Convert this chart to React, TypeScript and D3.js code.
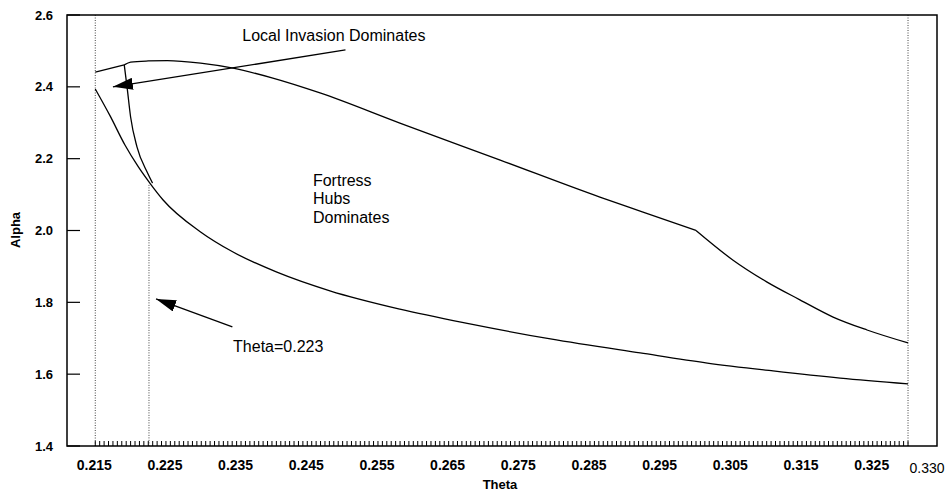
import React, { useEffect, useRef } from 'react';
import * as d3 from 'd3';

const WIDTH = 948;
const HEIGHT = 492;
const FONT = "'Liberation Sans', Arial, sans-serif";

// upper boundary (local invasion / fortress hubs)
const upperTheta = [0.215, 0.2191, 0.22, 0.2225, 0.2252, 0.2299, 0.2345, 0.24, 0.2468, 0.2581, 0.2723, 0.2864, 0.2924, 0.3, 0.3052, 0.31, 0.3147, 0.3194, 0.3242, 0.33];
const upperAlpha = [2.441, 2.461, 2.469, 2.472, 2.473, 2.466, 2.452, 2.425, 2.383, 2.299, 2.196, 2.093, 2.052, 2.0, 1.918, 1.857, 1.807, 1.759, 1.723, 1.687];
// corners on the upper boundary
const upperKinks = [0.2191, 0.3];

// lower boundary
const lowerTheta = [0.215, 0.2171, 0.2192, 0.2211, 0.2228, 0.2246, 0.2299, 0.2345, 0.2407, 0.2482, 0.2581, 0.268, 0.2794, 0.2921, 0.3016, 0.3109, 0.3204, 0.33];
const lowerAlpha = [2.394, 2.319, 2.238, 2.177, 2.13, 2.085, 1.996, 1.94, 1.884, 1.832, 1.781, 1.74, 1.698, 1.659, 1.631, 1.609, 1.589, 1.573];

// steep branch joining the two near theta = 0.223
const steepTheta = [0.2191, 0.2195, 0.22, 0.2209, 0.2224, 0.2231];
const steepAlpha = [2.461, 2.399, 2.316, 2.233, 2.16, 2.132];

const thetaLabels = [0.215, 0.225, 0.235, 0.245, 0.255, 0.265, 0.275, 0.285, 0.295, 0.305, 0.315, 0.325];
const thetaEndLabel = 0.33;
const alphaTicks = [1.4, 1.6, 1.8, 2.0, 2.2, 2.4, 2.6];

// dotted reference lines: theta, alpha where the line starts at the top
const refTheta = [0.215, 0.2226, 0.33];
const refTop = [2.6, 2.127, 2.6];

export default function App() {
  const ref = useRef<SVGSVGElement>(null);

  useEffect(() => {
    if (!ref.current) return;
    const svg = d3.select(ref.current);
    svg.selectAll('*').remove();

    const left = 67;
    const right = 937;
    const top = 15;
    const bottom = 446;

    const x = d3.scaleLinear().domain([0.211, 0.3341]).range([left, right]);
    const y = d3.scaleLinear().domain([1.4, 2.6]).range([bottom, top]);

    svg.append('rect').attr('width', WIDTH).attr('height', HEIGHT).attr('fill', '#fff');

    const defs = svg.append('defs');
    defs
      .append('marker')
      .attr('id', 'arrowHead')
      .attr('markerUnits', 'userSpaceOnUse')
      .attr('viewBox', '0 -6 20 12')
      .attr('markerWidth', 20)
      .attr('markerHeight', 12)
      .attr('refX', 20)
      .attr('refY', 0)
      .attr('orient', 'auto')
      .append('path')
      .attr('d', 'M0,-6L20,0L0,6Z')
      .attr('fill', '#000');

    // dotted reference lines
    refTheta.forEach((t, i) => {
      svg
        .append('line')
        .attr('x1', x(t))
        .attr('x2', x(t))
        .attr('y1', y(refTop[i]))
        .attr('y2', y(1.4))
        .attr('stroke', '#444')
        .attr('stroke-width', 1)
        .attr('stroke-dasharray', '1,1.5');
    });

    // frame
    svg
      .append('rect')
      .attr('x', left)
      .attr('y', top)
      .attr('width', right - left)
      .attr('height', bottom - top)
      .attr('fill', 'none')
      .attr('stroke', '#000')
      .attr('stroke-width', 1.5);

    // y ticks (inward) and labels
    alphaTicks.forEach((a) => {
      svg
        .append('line')
        .attr('x1', left)
        .attr('x2', left + 13)
        .attr('y1', y(a))
        .attr('y2', y(a))
        .attr('stroke', '#000')
        .attr('stroke-width', 1.2);
      svg
        .append('text')
        .attr('x', 53)
        .attr('y', y(a) + 4.5)
        .attr('text-anchor', 'end')
        .style('font-family', FONT)
        .style('font-size', '13px')
        .style('font-weight', 'bold')
        .text(a.toFixed(1));
    });

    // minor x ticks
    const minor = d3.range(185).map((i) => 0.215 + i * 0.000625);
    svg
      .append('g')
      .selectAll('line')
      .data(minor)
      .enter()
      .append('line')
      .attr('x1', (d) => x(d))
      .attr('x2', (d) => x(d))
      .attr('y1', bottom)
      .attr('y2', bottom - 5)
      .attr('stroke', '#000')
      .attr('stroke-width', 1);

    thetaLabels.forEach((t) => {
      svg
        .append('text')
        .attr('x', x(t) - 1)
        .attr('y', 470)
        .attr('text-anchor', 'middle')
        .style('font-family', FONT)
        .style('font-size', '14px')
        .style('font-weight', 'bold')
        .text(t.toFixed(3));
    });
    svg
      .append('text')
      .attr('x', x(thetaEndLabel) + 19)
      .attr('y', 473)
      .attr('text-anchor', 'middle')
      .style('font-family', FONT)
      .style('font-size', '14px')
      .text(thetaEndLabel.toFixed(3));

    // axis titles
    svg
      .append('text')
      .attr('x', 500)
      .attr('y', 489)
      .attr('text-anchor', 'middle')
      .style('font-family', FONT)
      .style('font-size', '13px')
      .style('font-weight', 'bold')
      .text('Theta');
    svg
      .append('text')
      .attr('transform', 'translate(20,230) rotate(-90)')
      .attr('text-anchor', 'middle')
      .style('font-family', FONT)
      .style('font-size', '13px')
      .style('font-weight', 'bold')
      .text('Alpha');

    // curves
    const line = d3
      .line<[number, number]>()
      .x((d) => x(d[0]))
      .y((d) => y(d[1]))
      .curve(d3.curveMonotoneX);

    const toPoints = (ts: number[], as: number[]) => ts.map((t, i) => [t, as[i]] as [number, number]);

    // split a series at its corners so the smoothing keeps them sharp
    const splitAt = (pts: [number, number][], kinks: number[]) => {
      const parts: [number, number][][] = [[]];
      pts.forEach((p) => {
        parts[parts.length - 1].push(p);
        if (kinks.includes(p[0])) parts.push([p]);
      });
      return parts.filter((p) => p.length > 1);
    };

    const segments = [
      ...splitAt(toPoints(upperTheta, upperAlpha), upperKinks),
      toPoints(lowerTheta, lowerAlpha),
      toPoints(steepTheta, steepAlpha),
    ];

    segments.forEach((pts) => {
      svg
        .append('path')
        .datum(pts)
        .attr('d', line)
        .attr('fill', 'none')
        .attr('stroke', '#000')
        .attr('stroke-width', 1.3)
        .attr('stroke-linejoin', 'round');
    });

    // annotations
    const arrows = [
      { from: [0.2504, 2.5026], to: [0.2175, 2.4] },
      { from: [0.2344, 1.7314], to: [0.2236, 1.8094] },
    ];
    arrows.forEach((a) => {
      svg
        .append('line')
        .attr('x1', x(a.from[0]))
        .attr('y1', y(a.from[1]))
        .attr('x2', x(a.to[0]))
        .attr('y2', y(a.to[1]))
        .attr('stroke', '#000')
        .attr('stroke-width', 1.3)
        .attr('marker-end', 'url(#arrowHead)');
    });

    const note = (t: number, a: number, lines: string[]) => {
      const txt = svg
        .append('text')
        .attr('x', x(t))
        .attr('y', y(a))
        .style('font-family', FONT)
        .style('font-size', '16px');
      lines.forEach((s, i) => {
        txt
          .append('tspan')
          .attr('x', x(t))
          .attr('dy', i === 0 ? 0 : 18.5)
          .text(s);
      });
    };
    note(0.2358, 2.5276, ['Local Invasion Dominates']);
    note(0.2458, 2.124, ['Fortress', 'Hubs', 'Dominates']);
    note(0.2345, 1.662, ['Theta=0.223']);
  }, []);

  return (
    <svg
      ref={ref}
      width={WIDTH}
      height={HEIGHT}
      style={{ position: 'absolute', left: 0, top: 0, display: 'block' }}
    />
  );
}
